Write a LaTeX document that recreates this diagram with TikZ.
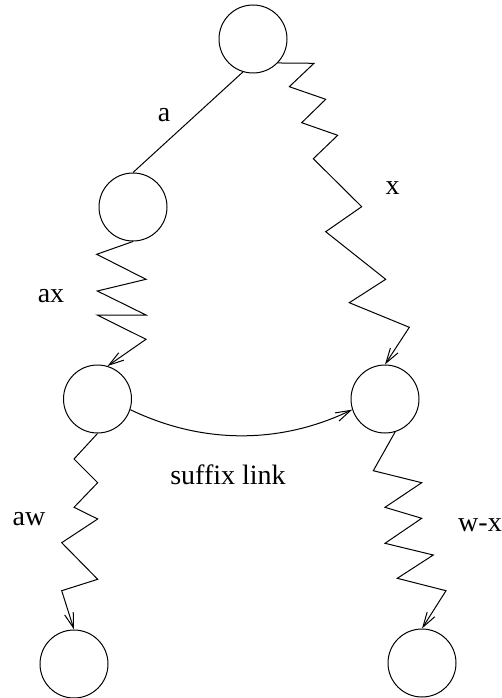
\documentclass[tikz,border=0pt]{standalone}
\usepackage{fontspec}
\setmainfont{Liberation Serif}
\usetikzlibrary{arrows.meta}
\begin{document}
\begin{tikzpicture}[x=1pt,y=-1pt,
  state/.style={draw,circle,minimum size=68pt,inner sep=0pt,line width=1pt},
  edge/.style={line width=1pt,line join=miter},
  arr/.style={edge,-{Straight Barb[length=15pt,width=9pt,line width=1pt]}},
  lbl/.style={font=\fontsize{28}{34}\selectfont,inner sep=0pt}]
\useasboundingbox (0,0) rectangle (501,698);
\node[state] (top) at (253,39) {};
\node[state] (ml) at (133,207) {};
\node[state] (l) at (97.5,399) {};
\node[state] (r) at (385,399) {};
\node[state] (bl) at (74,664) {};
\node[state] (br) at (422,663) {};
% edge a
\draw[edge] (top.-107) -- (ml.north);
% zigzag ax
\draw[arr] (ml.south) -- (96.7,254.3) -- (146,279.3) -- (97.3,291) -- (146,315) -- (97.3,315) -- (146,339.3) -- (l.73);
% zigzag x
\draw[arr] (top.-44) -- (314,63.3) -- (289.3,86.7) -- (325.7,99.3) -- (301.7,122.7) -- (337.7,135.3) -- (313.3,158.7) -- (361.7,206.7) -- (325.7,231.7) -- (385.7,279.3) -- (349.3,302.7) -- (409.3,327.3) -- (r.north);
% suffix link
\draw[arr] (l.-18) .. controls +(72,34.7) and +(-72,34.7) .. (r.-162);
% zigzag aw
\draw[arr] (l.south) -- (74,459) -- (97.7,482.7) -- (74,507.3) -- (97.7,519) -- (61.7,542.7) -- (97.7,579.3) -- (61.7,590.7) -- (bl.north);
% zigzag w-x
\draw[arr] (r.-73) -- (373.3,470.7) -- (421.7,482.7) -- (385,507.3) -- (421.7,518.3) -- (385,543.3) -- (433.3,555) -- (397.3,578.3) -- (446,590.7) -- (br.north);
% labels
\node[lbl] (la) at (164,115.5) {a};
\node[lbl] (lx) at (392.7,188.5) {x};
\node[lbl] (lax) at (51,296) {ax};
\node[lbl] (lsl) at (228,474.5) {suffix link};
\node[lbl] (law) at (29,519) {aw};
\node[lbl] (lwx) at (480,525) {w-x};
\end{tikzpicture}
\end{document}
